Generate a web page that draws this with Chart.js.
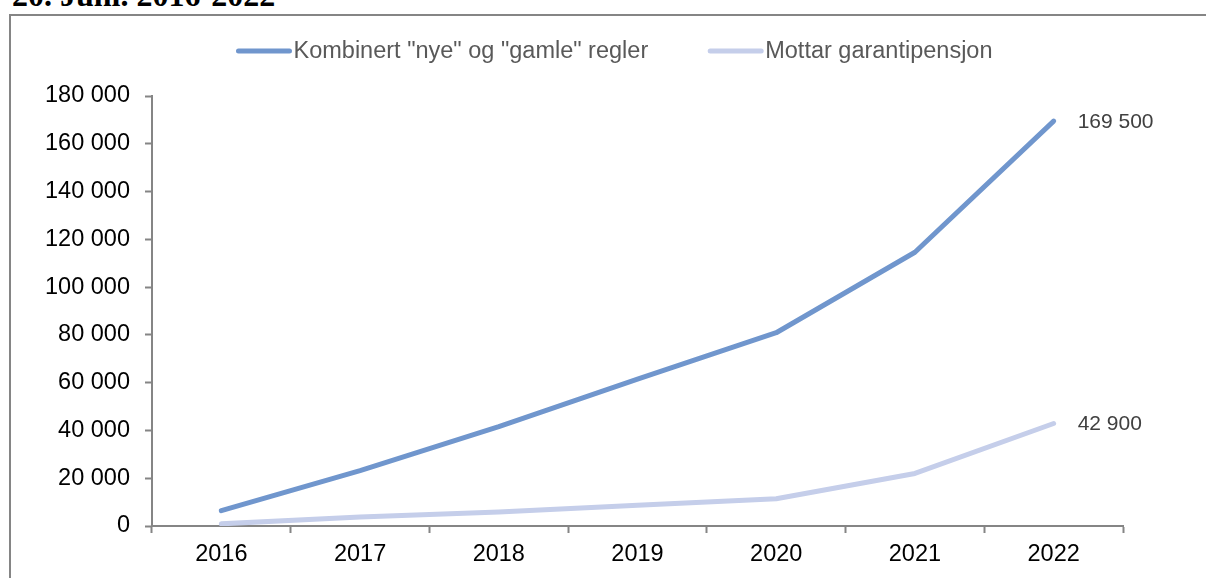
<!DOCTYPE html>
<html>
<head>
<meta charset="utf-8">
<script src="https://cdn.jsdelivr.net/npm/chart.js@4"></script>
<style>
  html, body { margin: 0; padding: 0; background: #fff; overflow: hidden; }
  #wrap { position: relative; width: 1206px; height: 578px; }
  #title {
    position: absolute; left: 12px; top: -21px;
    font: bold 32px "Liberation Serif", "Times New Roman", serif;
    line-height: 1; color: #000; white-space: nowrap;
  }
  #box {
    position: absolute; left: 9px; top: 14px; width: 1220px; height: 600px;
    border: 2px solid #858585; box-sizing: border-box;
  }
  #chart { position: absolute; left: 0; top: 0; }
</style>
</head>
<body>
<div id="wrap">
  <div id="title">20. Juni. 2016-2022</div>
  <div id="box"></div>
  <canvas id="chart" width="1206" height="578"></canvas>
</div>
<script>
const years = ['2016', '2017', '2018', '2019', '2020', '2021', '2022'];
const kombinert = [6400, 23200, 41600, 61500, 80900, 114600, 169500];
const garanti = [900, 3800, 5900, 8700, 11400, 22000, 42900];
const seriesNames = ['Kombinert "nye" og "gamle" regler', 'Mottar garantipensjon'];

const FONT = '"Liberation Sans", Arial, sans-serif';
const fmt = v => String(Math.round(v)).replace(/\B(?=(\d{3})+(?!\d))/g, ' ');

// legend drawn as line samples, tight to the text
const lineLegend = {
    id: 'lineLegend',
    afterDraw(chart) {
        const ctx = chart.ctx;
        ctx.save();
        ctx.font = '23.5px ' + FONT;
        ctx.textBaseline = 'middle';
        const items = chart.data.datasets.map(ds => ({
            text: ds.label, color: ds.borderColor, w: 58 + ctx.measureText(ds.label).width
        }));
        const gap = 59;
        const total = items.reduce((s, it) => s + it.w, 0) + gap * (items.length - 1);
        let x = 615 - total / 2;
        const y = 51;
        items.forEach(it => {
            ctx.strokeStyle = it.color;
            ctx.lineWidth = 5;
            ctx.lineCap = 'round';
            ctx.beginPath();
            ctx.moveTo(x + 2, y);
            ctx.lineTo(x + 53, y);
            ctx.stroke();
            ctx.fillStyle = '#595959';
            ctx.fillText(it.text, x + 57, y + 1);
            x += it.w + gap;
        });
        ctx.restore();
    }
};

// value label at the last point of each line
const endLabels = {
    id: 'endLabels',
    afterDatasetsDraw(chart) {
        const ctx = chart.ctx;
        ctx.save();
        ctx.font = '21px ' + FONT;
        ctx.fillStyle = '#404040';
        ctx.textBaseline = 'middle';
        chart.data.datasets.forEach((ds, i) => {
            const pts = chart.getDatasetMeta(i).data;
            const last = pts[pts.length - 1];
            ctx.fillText(fmt(ds.data[ds.data.length - 1]), last.x + 24, last.y + 1);
        });
        ctx.restore();
    }
};

const ctx = document.getElementById('chart').getContext('2d');
new Chart(ctx, {
    type: 'line',
    data: {
        labels: years,
        datasets: [{
            label: seriesNames[0],
            data: kombinert,
            borderColor: '#7096cd',
            backgroundColor: '#7096cd',
            borderWidth: 5,
            borderCapStyle: 'round',
            borderJoinStyle: 'round',
            pointRadius: 0,
            tension: 0
        }, {
            label: seriesNames[1],
            data: garanti,
            borderColor: '#c5ceea',
            backgroundColor: '#c5ceea',
            borderWidth: 5,
            borderCapStyle: 'round',
            borderJoinStyle: 'round',
            pointRadius: 0,
            tension: 0
        }]
    },
    options: {
        responsive: false,
        animation: false,
        layout: { padding: { left: 0, top: 96, right: 83, bottom: 0 } },
        plugins: {
            legend: { display: false },
            tooltip: { enabled: false }
        },
        scales: {
            x: {
                offset: true,
                grid: {
                    offset: true,
                    drawOnChartArea: false,
                    tickLength: 7,
                    tickColor: '#858585',
                    tickWidth: 2
                },
                border: { color: '#858585', width: 2 },
                ticks: {
                    color: '#000',
                    padding: 7,
                    maxRotation: 0,
                    font: { family: FONT, size: 23.5 }
                },
                afterFit: s => { s.height = 52; }
            },
            y: {
                min: 0,
                max: 180000,
                grid: {
                    drawOnChartArea: false,
                    tickLength: 7,
                    tickColor: '#858585',
                    tickWidth: 2
                },
                border: { color: '#858585', width: 2 },
                ticks: {
                    stepSize: 20000,
                    color: '#000',
                    padding: 15,
                    font: { family: FONT, size: 23.5 },
                    callback: v => fmt(v)
                },
                afterFit: s => { s.width = 152; }
            }
        }
    },
    plugins: [lineLegend, endLabels]
});
</script>
</body>
</html>
